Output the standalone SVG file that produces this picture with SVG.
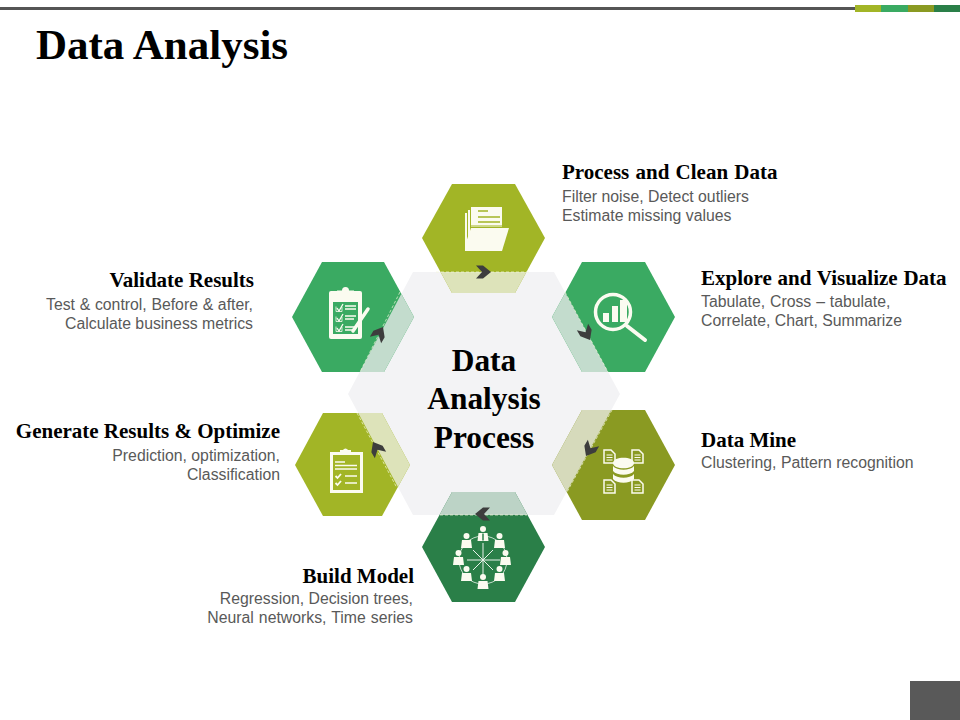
<svg xmlns="http://www.w3.org/2000/svg" xmlns:xlink="http://www.w3.org/1999/xlink" width="960" height="720" viewBox="0 0 960 720">
<style>
.h{font-family:"Liberation Serif","Times New Roman",serif;font-weight:bold;font-size:21px;fill:#000}
.d{font-family:"Liberation Sans",Arial,sans-serif;font-size:15.800px;fill:#595959}
.e{text-anchor:end}
.c{font-family:"Liberation Serif","Times New Roman",serif;font-weight:bold;font-size:31.400px;fill:#000;text-anchor:middle}
.edge{fill:none;stroke:#f4f6dc;stroke-width:1;stroke-dasharray:3 2;stroke-opacity:.7}
.i{fill:#fbfbf0}
.il{fill:none;stroke:#fbfbf0}
</style>
<defs>
<clipPath id="core"><polygon points="413,272 554,272 620,394 554,515 413,515 348,394"/></clipPath>
<polygon id="chev" points="-7,-6.500 0,-6.500 8,0 0,6.500 -7,6.500 -1,0" fill="#3d3d3d"/>
<g id="person"><circle cx="0" cy="-8" r="3" class="i"/><path d="M-4.500,-4 H4.500 L5.500,4 H-5.500Z" class="i"/></g>
<g id="file"><path d="M0,0 H7 L11,4 V13 H0Z" fill="none" stroke="#fbfbf0" stroke-width="1.500"/><path d="M2.500,5 H8.500 M2.500,7.500 H8.500 M2.500,10 H8.500" stroke="#fbfbf0" stroke-width="1.200"/></g>
</defs>
<rect width="960" height="720" fill="#fff"/>
<g id="top-bar">
<rect x="0" y="7" width="855" height="3" fill="#555"/>
<rect x="855" y="5" width="26" height="7" fill="#a2b526"/>
<rect x="881" y="5" width="27" height="7" fill="#3aaa62"/>
<rect x="908" y="5" width="26" height="7" fill="#8a9a22"/>
<rect x="934" y="5" width="26" height="7" fill="#2a7f48"/>
</g>
<text x="36" y="59" font-family="Liberation Serif,Times New Roman,serif" font-weight="bold" font-size="43">Data Analysis</text>
<rect id="corner" x="910" y="681" width="50" height="39" fill="#595959"/>

<g id="center"><polygon points="413,272 554,272 620,394 554,515 413,515 348,394" fill="#f3f3f5"/></g>

<g id="node-process">
<polygon points="452,184 515,184 545,238 515,293 452,293 422,238" fill="#a2b526"/>
<polygon clip-path="url(#core)" points="452,184 515,184 545,238 515,293 452,293 422,238" fill="#dde3ba"/>
<path class="edge" d="M436,272 H530"/>
<g>
<path class="i" d="M465,213 H467 V249 H465Z M468,210 H470 V247 H468Z"/>
<path class="i" d="M471,207 H502 V227 H471Z"/>
<path d="M478,211 H488 M478,217 H500 M478,222 H500" stroke="#a2b526" stroke-width="1.500"/>
<path d="M471,226 H503" stroke="#a2b526" stroke-width="1"/>
<path class="i" d="M477,228 H509 L502,251 H465 V245 L471,228Z"/>
</g>
<text class="h" x="562" y="179" word-spacing="1">Process and Clean Data</text>
<text class="d" x="562" y="202">Filter noise, Detect outliers</text>
<text class="d" x="562" y="221">Estimate missing values</text>
</g>

<g id="node-explore">
<polygon points="582,262 645,262 675,317 645,372 582,372 552,317" fill="#3aaa62"/>
<polygon clip-path="url(#core)" points="582,262 645,262 675,317 645,372 582,372 552,317" fill="#c3dccd"/>
<path class="edge" d="M565,292 L608,372"/>
<circle class="il" cx="613" cy="312" r="17.500" stroke-width="3.500"/>
<path class="il" d="M627,326 L645,340" stroke-width="4" stroke-linecap="round"/>
<path class="i" d="M603,313 H609 V322 H603Z M612,306 H618 V322 H612Z M620,300 H627 V322 H620Z"/>
<text class="h" x="701" y="285" word-spacing="0.500">Explore and Visualize Data</text>
<text class="d" x="701" y="307" word-spacing="0.500">Tabulate, Cross – tabulate,</text>
<text class="d" x="701" y="326">Correlate, Chart, Summarize</text>
</g>

<g id="node-mine">
<polygon points="582,410 645,410 675,465 645,520 582,520 552,465" fill="#8a9a22"/>
<polygon clip-path="url(#core)" points="582,410 645,410 675,465 645,520 582,520 552,465" fill="#d6dabb"/>
<path class="edge" d="M612,410 L567,492"/>
<use href="#file" x="604" y="450"/>
<use href="#file" x="632" y="450"/>
<use href="#file" x="604" y="480"/>
<use href="#file" x="632" y="480"/>
<path class="i" d="M613,463 C613,456 634,456 634,463 C634,470 613,470 613,463Z"/>
<path class="i" d="M613,466 C617,471 630,471 634,466 V471 C630,476 617,476 613,471Z"/>
<path class="i" d="M613,474 C617,479 630,479 634,474 V479 C630,484 617,484 613,479Z"/>
<text class="h" x="701" y="447">Data Mine</text>
<text class="d" x="701" y="468">Clustering, Pattern recognition</text>
</g>

<g id="node-build">
<polygon points="452,492 515,492 545,547 515,602 452,602 422,547" fill="#2a7f48"/>
<polygon clip-path="url(#core)" points="452,492 515,492 545,547 515,602 452,602 422,547" fill="#bcd3c6"/>
<path class="edge" d="M440,515 H527"/>
<g>
<path d="M483,543 V576 M467,560 H500 M473,550 L493,570 M493,550 L473,570" stroke="#e8f2ea" stroke-width="1"/>
<circle cx="483" cy="560" r="24" fill="none" stroke="#e8f2ea" stroke-width="0.800"/>
<use href="#person" x="483" y="537"/>
<use href="#person" x="499.500" y="544"/>
<use href="#person" x="505.500" y="561"/>
<use href="#person" x="499.500" y="577"/>
<use href="#person" x="483" y="585"/>
<use href="#person" x="466.500" y="577"/>
<use href="#person" x="458.500" y="561"/>
<use href="#person" x="466.500" y="544"/>
<path d="M483,533.500 V540.500" stroke="#2a7f48" stroke-width="1.500"/>
</g>
<text class="h e" x="414" y="583">Build Model</text>
<text class="d e" x="413" y="604">Regression, Decision trees,</text>
<text class="d e" x="413" y="623" word-spacing="0.700">Neural networks, Time series</text>
</g>

<g id="node-generate">
<polygon points="323,413 382,413 410,465 382,516 323,516 295,465" fill="#a2b526"/>
<polygon clip-path="url(#core)" points="323,413 382,413 410,465 382,516 323,516 295,465" fill="#dde3ba"/>
<path class="edge" d="M357,413 L397,488"/>
<rect class="il" x="331.500" y="453.500" width="30" height="38" stroke-width="3"/>
<path class="i" d="M340,455 V450 H343 A2.800,2.800 0 0 1 348,450 H351 V455Z"/>
<path class="il" d="M335,462 H345 M335,465.500 H357 M335,469 H357 M345,476 H357 M345,483 H357" stroke-width="1.500"/>
<path class="il" d="M335.500,476 L337.500,478 L341,474 M335.500,483 L337.500,485 L341,481" stroke-width="1.800"/>
<text class="h e" x="280" y="438">Generate Results &amp; Optimize</text>
<text class="d e" x="280" y="461">Prediction, optimization,</text>
<text class="d e" x="280" y="480">Classification</text>
</g>

<g id="node-validate">
<polygon points="322,262 384,262 414,317 384,372 322,372 292,317" fill="#3aaa62"/>
<polygon clip-path="url(#core)" points="322,262 384,262 414,317 384,372 322,372 292,317" fill="#c3dccd"/>
<path class="edge" d="M400,292 L360,372"/>
<rect class="i" x="329" y="291" width="33" height="48" rx="2"/>
<rect x="333" y="302" width="25" height="32" fill="#3aaa62"/>
<path class="i" d="M337,295 V290.500 H342 A3.500,3.500 0 0 1 349,290.500 H354 V295Z"/>
<path class="il" d="M345,306 H356 M345,309 H356 M345,316 H356 M345,319 H354 M345,327 H356 M345,330 H354" stroke-width="1.300"/>
<path class="il" d="M336,306.500 V311.500 H342 V307 M336,316.500 V321.500 H342 V317 M336,326.500 V331.500 H342 V327" stroke-width="0.800"/>
<path class="il" d="M337,308 L339,311 L343,304 M337,318 L339,321 L343,314 M337,328 L339,331 L343,324" stroke-width="1.300"/>
<path class="il" d="M353,331 L368,309" stroke-width="3.500" stroke-linecap="round"/>
<text class="h e" x="254" y="287">Validate Results</text>
<text class="d e" x="253" y="310" word-spacing="0.300">Test &amp; control, Before &amp; after,</text>
<text class="d e" x="253" y="329">Calculate business metrics</text>
</g>

<g id="connectors">
<use href="#chev" transform="translate(483 272)"/>
<use href="#chev" transform="translate(586 333) rotate(60)"/>
<use href="#chev" transform="translate(590 449) rotate(120)"/>
<use href="#chev" transform="translate(483 514) rotate(180)"/>
<use href="#chev" transform="translate(377 449) rotate(240)"/>
<use href="#chev" transform="translate(379 334) rotate(300)"/>
</g>

<g id="center-label">
<text class="c" x="484" y="371">Data</text>
<text class="c" x="484" y="409">Analysis</text>
<text class="c" x="484" y="448">Process</text>
</g>
</svg>
